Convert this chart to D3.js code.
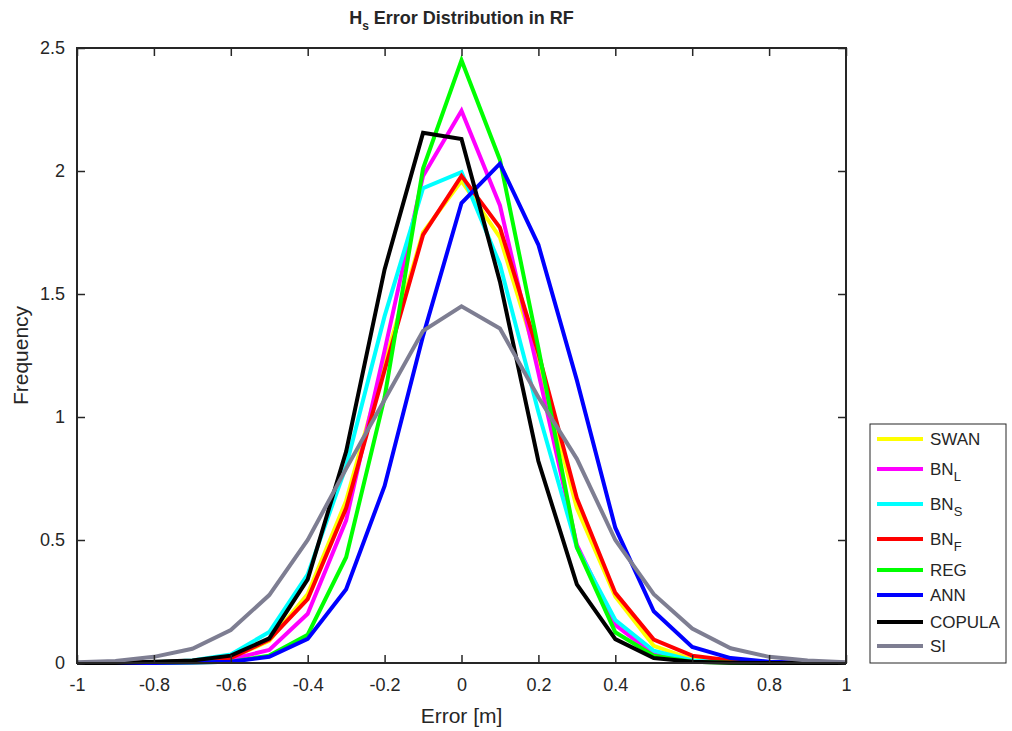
<!DOCTYPE html>
<html>
<head>
<meta charset="utf-8">
<script src="https://cdn.jsdelivr.net/npm/d3@7"></script>
<style>
  body { margin: 0; background: #fff; }
  text { font-family: "Liberation Sans", Arial, sans-serif; fill: #262626; }
</style>
</head>
<body>
<div id="chart"></div>
<script>
// error bins (m)
var errors = [-1, -0.9, -0.8, -0.7, -0.6, -0.5, -0.4, -0.3, -0.2, -0.1, 0,
              0.1, 0.2, 0.3, 0.4, 0.5, 0.6, 0.7, 0.8, 0.9, 1];

// frequency per model
var swan   = [0, 0, 0.003, 0.008, 0.02, 0.09, 0.28, 0.66, 1.22, 1.75, 1.96, 1.73, 1.22, 0.63, 0.27, 0.07, 0.015, 0.004, 0.001, 0, 0];
var bnL    = [0, 0, 0.002, 0.005, 0.015, 0.053, 0.20, 0.58, 1.27, 1.98, 2.245, 1.86, 1.18, 0.48, 0.155, 0.035, 0.008, 0.002, 0, 0, 0];
var bnS    = [0, 0, 0.003, 0.01, 0.035, 0.126, 0.36, 0.80, 1.41, 1.93, 1.995, 1.62, 1.02, 0.47, 0.175, 0.05, 0.01, 0.003, 0, 0, 0];
var bnF    = [0, 0, 0.003, 0.008, 0.02, 0.095, 0.26, 0.63, 1.19, 1.74, 1.98, 1.77, 1.26, 0.67, 0.285, 0.095, 0.03, 0.01, 0.003, 0, 0];
var reg    = [0, 0, 0, 0.002, 0.005, 0.03, 0.115, 0.43, 1.08, 2.01, 2.45, 2.045, 1.28, 0.47, 0.125, 0.03, 0.005, 0.001, 0, 0, 0];
var ann    = [0, 0, 0, 0.002, 0.005, 0.025, 0.098, 0.30, 0.72, 1.33, 1.87, 2.03, 1.70, 1.15, 0.55, 0.21, 0.065, 0.02, 0.005, 0.001, 0];
var copula = [0, 0, 0.005, 0.01, 0.03, 0.10, 0.34, 0.86, 1.60, 2.155, 2.13, 1.55, 0.82, 0.32, 0.097, 0.02, 0.005, 0.001, 0, 0, 0];
var si     = [0.003, 0.008, 0.025, 0.058, 0.134, 0.276, 0.50, 0.79, 1.07, 1.35, 1.45, 1.36, 1.08, 0.83, 0.50, 0.28, 0.14, 0.06, 0.025, 0.01, 0.003];

var xTicks = [-1, -0.8, -0.6, -0.4, -0.2, 0, 0.2, 0.4, 0.6, 0.8, 1];
var yTicks = [0, 0.5, 1, 1.5, 2, 2.5];

// legend order + colours
var seriesNames = ['SWAN', 'BN', 'BN', 'BN', 'REG', 'ANN', 'COPULA', 'SI'];
var seriesSubs  = ['', 'L', 'S', 'F', '', '', '', ''];
var seriesValues = [swan, bnL, bnS, bnF, reg, ann, copula, si];
var seriesColors = ['#ffff00', '#ff00ff', '#00ffff', '#ff0000', '#00ff00', '#0000ff', '#000000', '#7e7e92'];

var width = 1012, height = 731;
var margin = {top: 48, right: 166, bottom: 68, left: 77},
    w = width - margin.left - margin.right,
    h = height - margin.top - margin.bottom;

var svg = d3.select('#chart').append('svg')
            .attr('width', width)
            .attr('height', height);

var xScale = d3.scaleLinear().domain([-1, 1]).range([0, w]),
    yScale = d3.scaleLinear().domain([0, 2.5]).range([h, 0]);

var focus = svg.append('g')
               .attr('transform', 'translate(' + margin.left + ',' + margin.top + ')');

// lines, drawn in legend order so later series sit on top
var line = d3.line()
             .x(function(d, i) { return xScale(errors[i]); })
             .y(function(d) { return yScale(d); });

var order = [0, 1, 2, 3, 4, 5, 6, 7];
focus.selectAll('.series')
     .data(order)
     .enter().append('path')
     .attr('class', 'series')
     .attr('d', function(i) { return line(seriesValues[i]); })
     .attr('fill', 'none')
     .attr('stroke', function(i) { return seriesColors[i]; })
     .attr('stroke-width', 4)
     .attr('stroke-linejoin', 'miter');

// axes: ticks inside, on all four sides
var tickLen = 8;
var axisColor = '#262626';

function styleAxis(g) {
  g.selectAll('.domain').remove();
  g.selectAll('line').attr('stroke', axisColor).attr('stroke-width', 1.5);
  g.selectAll('text').style('font-size', '18px').attr('fill', axisColor);
}

focus.append('g')
     .attr('transform', 'translate(0,' + h + ')')
     .call(d3.axisBottom(xScale).tickValues(xTicks).tickSizeInner(-tickLen).tickSizeOuter(0).tickPadding(15)
       .tickFormat(function(d) { return d3.format('')(d).replace('−', '-'); }))
     .call(styleAxis);

focus.append('g')
     .call(d3.axisTop(xScale).tickValues(xTicks).tickSizeInner(-tickLen).tickSizeOuter(0).tickFormat(''))
     .call(styleAxis);

focus.append('g')
     .call(d3.axisLeft(yScale).tickValues(yTicks).tickSizeInner(-tickLen).tickSizeOuter(0).tickPadding(12)
       .tickFormat(function(d) { return d; }))
     .call(styleAxis);

focus.append('g')
     .attr('transform', 'translate(' + w + ',0)')
     .call(d3.axisRight(yScale).tickValues(yTicks).tickSizeInner(-tickLen).tickSizeOuter(0).tickFormat(''))
     .call(styleAxis);

// box
focus.append('rect')
     .attr('width', w)
     .attr('height', h)
     .attr('fill', 'none')
     .attr('stroke', axisColor)
     .attr('stroke-width', 2);

// titles
var title = svg.append('text')
               .attr('x', margin.left + w / 2)
               .attr('y', 24)
               .attr('text-anchor', 'middle')
               .style('font-size', '18px')
               .style('font-weight', 'bold')
               .attr('fill', '#000');
title.append('tspan').text('H');
title.append('tspan').attr('dy', 6).style('font-size', '12px').text('s');
title.append('tspan').attr('dy', -6).text(' Error Distribution in RF');

svg.append('text')
   .attr('x', margin.left + w / 2)
   .attr('y', 723)
   .attr('text-anchor', 'middle')
   .style('font-size', '21px')
   .text('Error [m]');

svg.append('text')
   .attr('transform', 'translate(28,' + (margin.top + h / 2) + ')rotate(-90)')
   .attr('text-anchor', 'middle')
   .style('font-size', '21px')
   .text('Frequency');

// legend
var legend = svg.append('g')
                .attr('transform', 'translate(870,424)');

legend.append('rect')
      .attr('width', 136)
      .attr('height', 239)
      .attr('fill', '#fff')
      .attr('stroke', axisColor)
      .attr('stroke-width', 1);

var legendY = [15, 45, 80, 115, 146, 171, 198, 222];

var key = legend.selectAll('.key')
                .data(order)
                .enter().append('g')
                .attr('class', 'key')
                .attr('transform', function(i) { return 'translate(0,' + legendY[i] + ')'; });

key.append('line')
   .attr('x1', 7)
   .attr('x2', 53)
   .attr('stroke', function(i) { return seriesColors[i]; })
   .attr('stroke-width', 4);

var keyText = key.append('text')
                 .attr('x', 60)
                 .attr('y', 6)
                 .style('font-size', '17px')
                 .attr('fill', '#000');
keyText.append('tspan').text(function(i) { return seriesNames[i]; });
keyText.append('tspan')
       .attr('dy', 6)
       .style('font-size', '13px')
       .text(function(i) { return seriesSubs[i]; });
</script>
</body>
</html>
